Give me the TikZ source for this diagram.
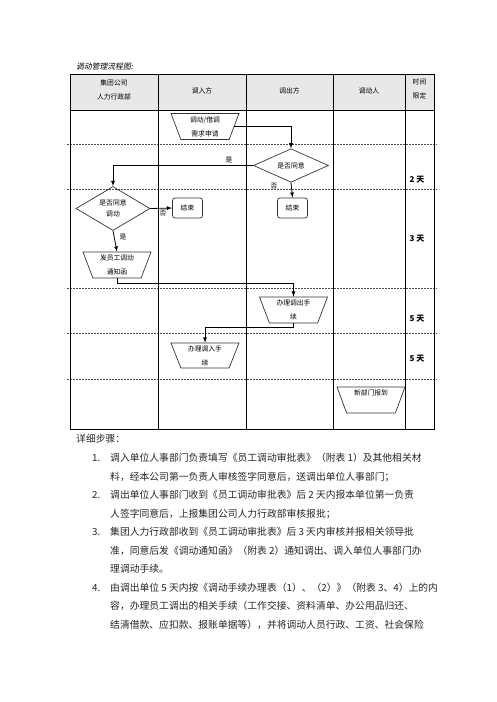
\documentclass[tikz,border=0pt]{standalone}
\usepackage{fontspec}
\setmainfont{Noto Sans CJK SC}
\newfontfamily\slantfont[FakeSlant=0.2]{Noto Sans CJK SC}
\usetikzlibrary{shapes.geometric}
\newcommand{\tabfont}{\fontsize{6.8}{14}\selectfont}
\newcommand{\bodyfont}{\fontsize{9.8}{18.5}\selectfont}

\begin{document}
\begin{tikzpicture}[x=1pt, y=-1pt,
    tabline/.style={black, line width=0.8pt},
    lane/.style={black!70, dash pattern=on 2pt off 1pt, line width=0.5pt},
    proc/.style={trapezium, trapezium left angle=64, trapezium right angle=64, shape border rotate=180,
        trapezium stretches body, draw=black!80, line width=0.7pt, minimum width=68pt, minimum height=26pt,
        inner sep=0pt, align=center, font=\tabfont},
    decide/.style={diamond, draw=black!80, line width=0.7pt, inner sep=0pt, align=center, font=\tabfont},
    stop/.style={rectangle, rounded corners=2.5pt, draw=black!80, line width=0.7pt, minimum width=30pt,
        minimum height=20pt, inner sep=0pt, font=\tabfont},
    arrow/.style={->, >=latex, line width=0.8pt},
    lbl/.style={font=\tabfont, inner sep=0pt},
    days/.style={font=\fontsize{8}{10}\selectfont\bfseries, inner sep=0pt},
    head/.style={font=\tabfont, align=center, inner sep=0pt},
    txt/.style={anchor=base west, inner sep=0pt, font=\bodyfont, text=black!85}
]
\useasboundingbox (0,0) rectangle (496,702);

% Title
\node[anchor=west, inner sep=0pt, font=\slantfont\fontsize{7.8}{10}\selectfont] (title) at (76,67) {调动管理流程图:};

% Table
\fill[black!9] (70,74) rectangle (434,110);
\foreach \y in {144,189,288,333,379}
    \draw[lane] (67,\y) -- (437,\y);
\draw[tabline] (70,74) rectangle (434,429);
\draw[tabline] (70,110) -- (434,110);
\foreach \x in {158.5,246,333,405}
    \draw[tabline] (\x,74) -- (\x,429);

% Header
\node[head] (hgroup) at (114,89.5) {集团公司\\人力行政部};
\node[head] (hin) at (202,91) {调入方};
\node[head] (hout) at (289.5,91) {调出方};
\node[head] (hstaff) at (369,91) {调动人};
\node[head] (htime) at (419.5,89) {时间\\限定};

% Shapes
\node[proc] (req) at (205,126.5) {调动/借调\\需求申请};
\node[decide, minimum width=75pt, minimum height=33pt] (judge1) at (291,165.5) {是否同意};
\node[stop] (end1) at (292.5,208) {结束};
\node[decide, minimum width=74pt, minimum height=39pt, font=\fontsize{6.8}{10.5}\selectfont] (judge2) at (113,208.5) {是否同意\\调动};
\node[stop] (end2) at (187.5,208) {结束};
\node[proc] (notice) at (117,265) {发员工调动\\通知函};
\node[proc] (outproc) at (293.5,310) {办理调出手\\续};
\node[proc, minimum height=25pt] (inproc) at (205,355.5) {办理调入手\\续};
\node[proc] (report) at (371,400) {新部门报到\\~};

% Arrows
\draw[arrow] (req.east) -| (judge1.north);
\draw[arrow] (judge1.west) -| (judge2.north);
\draw[arrow] (judge1.south) -- (end1.north);
\draw[arrow] (judge2.east) -- (end2.west);
\draw[arrow] (judge2.south) -- (notice.north);
\draw[arrow] (notice.south) -- ++(0,5) -| (outproc.north);
\draw[arrow] (outproc.south) -- ++(0,4) -| (inproc.north);

% Labels
\node[lbl] (yes1) at (229,160) {是};
\node[lbl] (no1) at (274,186) {否};
\node[lbl] (no2) at (163,213) {否};
\node[lbl] (yes2) at (123,237) {是};

% Time limits
\node[days] (t1) at (417,180) {2 天};
\node[days] (t2) at (417,239) {3 天};
\node[days] (t3) at (417,319) {5 天};
\node[days] (t4) at (417,359) {5 天};

% Steps
\node[txt] (steps) at (76,442.5) {详细步骤：};
\foreach \n/\y in {1./461.5,2./498.5,3./535.5,4./591}
    \node[txt] at (92,\y) {\n};
\node[txt] (s1a) at (110,461.5) {调入单位人事部门负责填写《员工调动审批表》（附表 1）及其他相关材};
\node[txt] (s1b) at (110,480) {料，经本公司第一负责人审核签字同意后，送调出单位人事部门；};
\node[txt] (s2a) at (110,498.5) {调出单位人事部门收到《员工调动审批表》后 2 天内报本单位第一负责};
\node[txt] (s2b) at (110,517) {人签字同意后，上报集团公司人力行政部审核报批；};
\node[txt] (s3a) at (110,535.5) {集团人力行政部收到《员工调动审批表》后 3 天内审核并报相关领导批};
\node[txt] (s3b) at (110,554) {准，同意后发《调动通知函》（附表 2）通知调出、调入单位人事部门办};
\node[txt] (s3c) at (110,572.5) {理调动手续。};
\node[txt] (s4a) at (110,591) {由调出单位 5 天内按《调动手续办理表（1）、（2）》（附表 3、4）上的内};
\node[txt] (s4b) at (110,609.5) {容，办理员工调出的相关手续（工作交接、资料清单、办公用品归还、};
\node[txt] (s4c) at (110,628) {结清借款、应扣款、报账单据等），并将调动人员行政、工资、社会保险};
\end{tikzpicture}
\end{document}
